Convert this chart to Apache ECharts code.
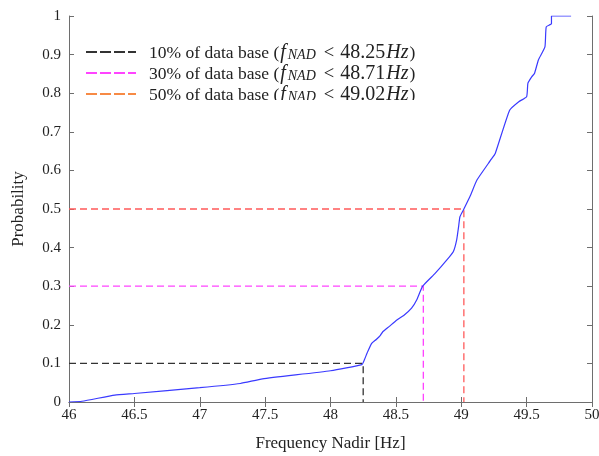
<!DOCTYPE html>
<html>
<head>
<meta charset="utf-8">
<script src="https://cdn.jsdelivr.net/npm/echarts@6/dist/echarts.min.js"></script>
<style>html,body{margin:0;padding:0;background:#fff}#c{width:599px;height:456px}</style>
</head>
<body>
<div id="c"></div>
<script>
// CDF curve (Frequency Nadir [Hz] vs Probability)
const freq = [46.0, 46.1, 46.35, 46.5, 47.0, 47.31, 47.48, 48.0, 48.24, 48.26, 48.28, 48.315, 48.35, 48.38, 48.40, 48.45, 48.505, 48.56, 48.62, 48.66, 48.705, 48.8, 48.89, 48.94, 48.965, 48.98, 48.99, 49.02, 49.07, 49.12, 49.23, 49.26, 49.37, 49.44, 49.50, 49.51, 49.54, 49.56, 49.59, 49.64, 49.65, 49.69, 49.69, 49.84];
const prob = [0, 0.002, 0.018, 0.022, 0.037, 0.048, 0.06, 0.081, 0.097, 0.11, 0.127, 0.152, 0.162, 0.172, 0.182, 0.196, 0.212, 0.224, 0.243, 0.265, 0.300, 0.333, 0.368, 0.39, 0.42, 0.455, 0.48, 0.50, 0.535, 0.575, 0.629, 0.644, 0.756, 0.778, 0.791, 0.826, 0.843, 0.851, 0.886, 0.92, 0.972, 0.98, 1.0, 1.0];
// Thresholds
const pctLabels = ['10%', '30%', '50%'];
const levels = [0.1, 0.3, 0.5];
const thresholds = [48.25, 48.71, 49.02];
const xTicks = [46, 46.5, 47, 47.5, 48, 48.5, 49, 49.5, 50];
const yTicks = [0, 0.1, 0.2, 0.3, 0.4, 0.5, 0.6, 0.7, 0.8, 0.9, 1];

const lineColors = ['#333333', '#ff44ff', '#ff5a5a'];
const legendColors = ['#333333', '#ff44ff', '#f78a45'];
const serif = "'Liberation Serif', 'Times New Roman', serif";
const names = pctLabels.map((p, i) => p + ' of data base (f_NAD < ' + thresholds[i].toFixed(2) + 'Hz)');

const dashIcon = 'path://M0,0h11v2h-11z M14,0h11v2h-11z M28,0h11v2h-11z M42,0h8v2h-8z';

const chart = echarts.init(document.getElementById('c'), null, {renderer: 'canvas'});
const axisLineStyle = {color: '#6e6e6e', width: 1};
const series = [{
  type: 'line', name: 'cdf', data: freq.map((f, i) => [f, prob[i]]),
  showSymbol: false, symbol: 'none', smooth: 0.15, lineStyle: {color: '#3a3aff', width: 1.2}, z: 5
}];
thresholds.forEach((t, i) => {
  series.push({
    type: 'line', name: names[i],
    data: [[46, levels[i]], [t, levels[i]], [t, 0]],
    showSymbol: false, symbol: 'none',
    lineStyle: {color: lineColors[i], width: 1.3, type: [7, 4]},
    itemStyle: {color: legendColors[i]}, z: 3
  });
});

const fs = 17.5;
const tok = (extra) => Object.assign({fontFamily: serif, fontSize: fs, color: '#222', lineHeight: 15, verticalAlign: 'bottom'}, extra);
chart.setOption({
  animation: false,
  grid: {left: 69, right: 7, top: 16, bottom: 54, outerBoundsMode: 'none', containLabel: false},
  xAxis: [{
    type: 'value', min: 46, max: 50, interval: 0.5, position: 'bottom',
    name: 'Frequency Nadir [Hz]', nameLocation: 'middle', nameGap: 33,
    nameTextStyle: {fontFamily: serif, fontSize: 17, color: '#222'},
    axisLine: {show: true, lineStyle: axisLineStyle},
    axisTick: {show: true, inside: true, length: 5, lineStyle: axisLineStyle},
    axisLabel: {fontFamily: serif, fontSize: 15, color: '#222', margin: 6,
      formatter: v => xTicks.includes(v) ? String(v) : ''},
    splitLine: {show: false}
  }, {
    type: 'value', min: 46, max: 50, interval: 0.5, position: 'top',
    axisLine: {show: true, lineStyle: axisLineStyle},
    axisTick: {show: true, inside: true, length: 5, lineStyle: axisLineStyle},
    axisLabel: {show: false}, splitLine: {show: false}
  }],
  yAxis: [{
    type: 'value', min: 0, max: 1, interval: 0.1, position: 'left',
    name: 'Probability', nameLocation: 'middle', nameGap: 42,
    nameTextStyle: {fontFamily: serif, fontSize: 17, color: '#222'},
    axisLine: {show: true, lineStyle: axisLineStyle},
    axisTick: {show: true, inside: true, length: 5, lineStyle: axisLineStyle},
    axisLabel: {fontFamily: serif, fontSize: 15, color: '#222', margin: 8,
      formatter: v => { const t = yTicks.find(y => Math.abs(y - v) < 1e-9); return t === undefined ? '' : String(t); }},
    splitLine: {show: false}
  }, {
    type: 'value', min: 0, max: 1, interval: 0.1, position: 'right',
    axisLine: {show: true, lineStyle: axisLineStyle},
    axisTick: {show: true, inside: true, length: 5, lineStyle: axisLineStyle},
    axisLabel: {show: false}, splitLine: {show: false}
  }],
  legend: {
    orient: 'vertical', left: 81, top: 36.5, itemGap: 0,
    itemWidth: 50, itemHeight: 2, icon: dashIcon,
    data: names.map((n, i) => ({name: n, itemStyle: {color: legendColors[i]}})),
    formatter: n => {
      const i = names.indexOf(n);
      return '{pad|}{t|' + pctLabels[i] + ' of data base (}{i|f}{sub|NAD}{lt|<}{num|' + thresholds[i].toFixed(2) + '}{i|Hz}{t|)}';
    },
    textStyle: {
      fontFamily: serif, fontSize: fs, color: '#222', lineHeight: 21,
      rich: {
        pad: {width: 8, height: 21, lineHeight: 21},
        t: tok({}),
        lt: tok({fontSize: fs + 1, padding: [0, 6, 0, 8]}),
        num: tok({fontSize: 20}),
        i: tok({fontSize: 20, fontStyle: 'italic', padding: [0, 1, 0, 1]}),
        sub: tok({fontSize: 14, fontStyle: 'italic', lineHeight: 6, padding: [0, 0, 0, 1]})
      }
    }
  },
  graphic: [{
    type: 'rect', left: 76, top: 100, shape: {width: 370, height: 10},
    style: {fill: '#ffffff'}, z: 100
  }],
  series: series
});
</script>
</body>
</html>
